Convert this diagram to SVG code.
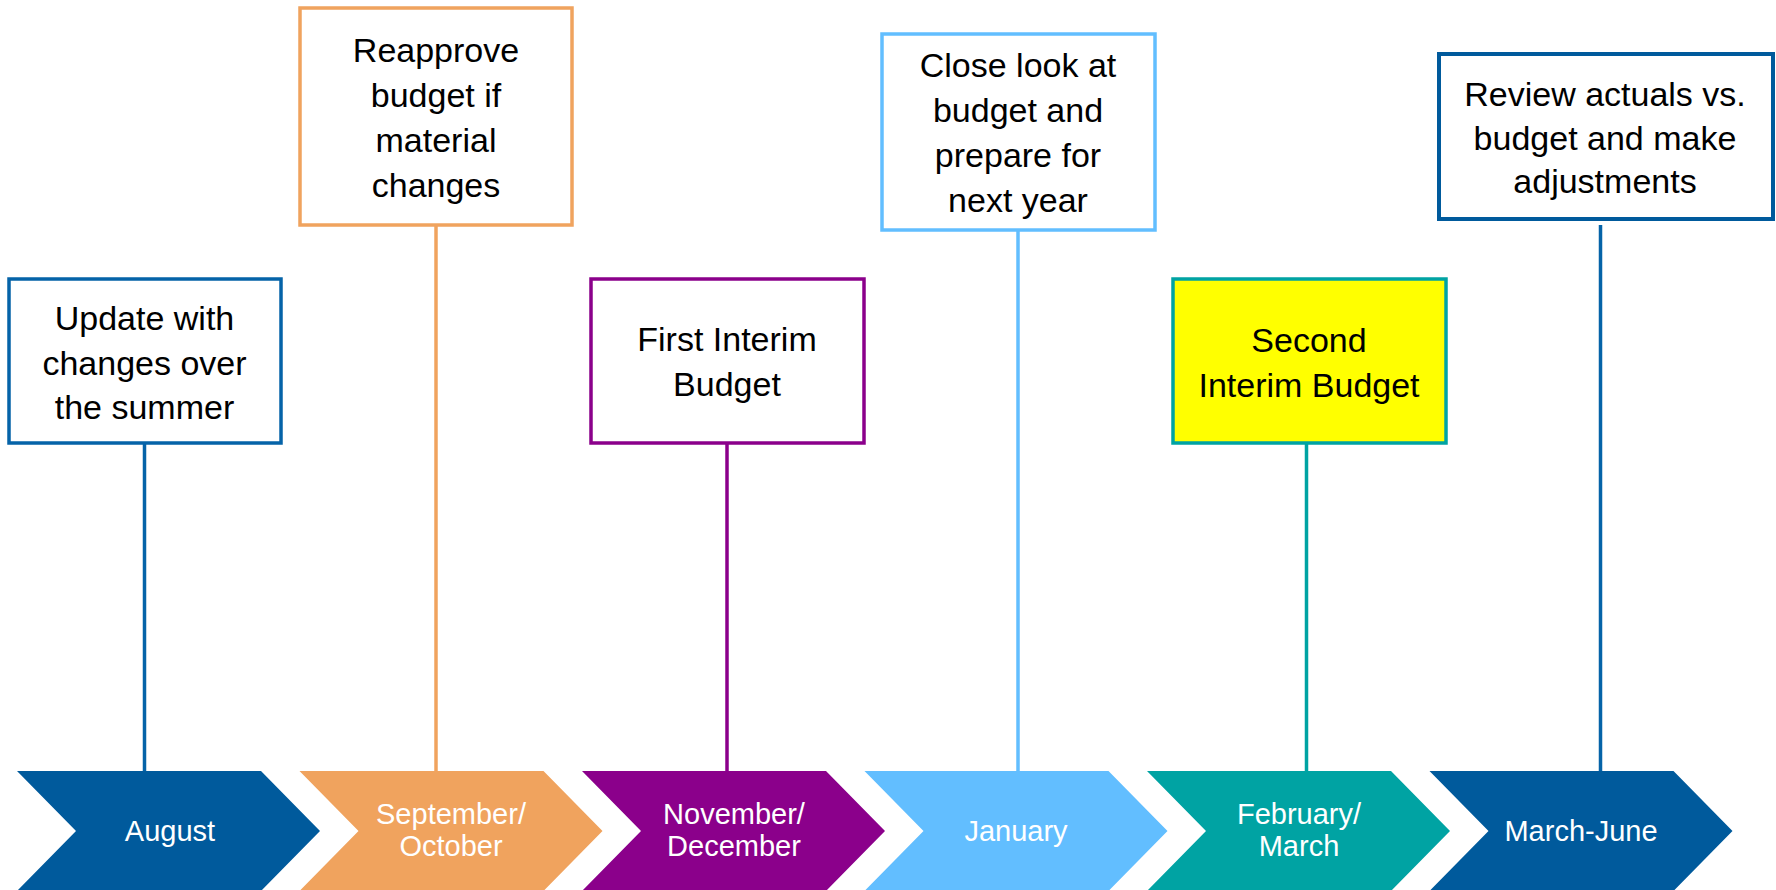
<svg xmlns="http://www.w3.org/2000/svg" width="1776" height="890" viewBox="0 0 1776 890">
<style>
.box{fill:#fff;stroke-width:3.5}
.bt{font-family:"Liberation Sans",Arial,sans-serif;font-size:34px;fill:#000;text-anchor:middle}
.ct{font-family:"Liberation Sans",Arial,sans-serif;font-size:29px;fill:#fff;text-anchor:middle}
.ln{stroke-width:3.5;fill:none}
</style>
<rect width="1776" height="890" fill="#fff"/>
<g id="connectors">
<line class="ln" x1="144.5" y1="443" x2="144.5" y2="773" stroke="#0563A8"/>
<line class="ln" x1="436" y1="225" x2="436" y2="773" stroke="#F0A35E"/>
<line class="ln" x1="727" y1="443" x2="727" y2="773" stroke="#8B008B"/>
<line class="ln" x1="1018" y1="230" x2="1018" y2="776" stroke="#62BEFF"/>
<line class="ln" x1="1306.5" y1="443" x2="1306.5" y2="773" stroke="#00A3A3"/>
<line class="ln" x1="1600.5" y1="225" x2="1600.5" y2="773" stroke="#0563A8"/>
</g>
<g id="chev-aug">
<polygon points="17,771 261,771 320,831 261,891 17,891 76,831" fill="#005A9C"/>
<text class="ct" x="170" y="841">August</text>
</g>
<g id="chev-sep">
<polygon points="299.5,771 543.5,771 602.5,831 543.5,891 299.5,891 358.5,831" fill="#F0A35E"/>
<text class="ct" x="451" y="824">September/</text>
<text class="ct" x="451" y="856">October</text>
</g>
<g id="chev-nov">
<polygon points="582,771 826,771 885,831 826,891 582,891 641,831" fill="#8B008B"/>
<text class="ct" x="734" y="824">November/</text>
<text class="ct" x="734" y="856">December</text>
</g>
<g id="chev-jan">
<polygon points="864.5,771 1108.5,771 1167.5,831 1108.5,891 864.5,891 923.5,831" fill="#62BEFF"/>
<text class="ct" x="1016" y="841">January</text>
</g>
<g id="chev-feb">
<polygon points="1147,771 1391,771 1450,831 1391,891 1147,891 1206,831" fill="#00A3A3"/>
<text class="ct" x="1299" y="824">February/</text>
<text class="ct" x="1299" y="856">March</text>
</g>
<g id="chev-mar">
<polygon points="1429.5,771 1673.5,771 1732.5,831 1673.5,891 1429.5,891 1488.5,831" fill="#005A9C"/>
<text class="ct" x="1581" y="841">March-June</text>
</g>
<g id="box-aug">
<rect class="box" x="9" y="279" width="272" height="164" stroke="#0563A8"/>
<text class="bt" x="144.5" y="330">Update with</text>
<text class="bt" x="144.5" y="375">changes over</text>
<text class="bt" x="144.5" y="419">the summer</text>
</g>
<g id="box-sep">
<rect class="box" x="300" y="8" width="272" height="217" stroke="#F0A35E"/>
<text class="bt" x="436" y="62">Reapprove</text>
<text class="bt" x="436" y="107">budget if</text>
<text class="bt" x="436" y="152">material</text>
<text class="bt" x="436" y="197">changes</text>
</g>
<g id="box-nov">
<rect class="box" x="591" y="279" width="273" height="164" stroke="#8B008B"/>
<text class="bt" x="727" y="351">First Interim</text>
<text class="bt" x="727" y="396">Budget</text>
</g>
<g id="box-jan">
<rect class="box" x="882" y="34" width="273" height="196" stroke="#62BEFF"/>
<text class="bt" x="1018" y="77">Close look at</text>
<text class="bt" x="1018" y="122">budget and</text>
<text class="bt" x="1018" y="167">prepare for</text>
<text class="bt" x="1018" y="212">next year</text>
</g>
<g id="box-feb">
<rect class="box" x="1173" y="279" width="273" height="164" stroke="#00A3A3" style="fill:#FFFF00"/>
<text class="bt" x="1309" y="352">Second</text>
<text class="bt" x="1309" y="397">Interim Budget</text>
</g>
<g id="box-mar">
<rect class="box" x="1439" y="54" width="334" height="165" stroke="#005A9C" style="stroke-width:4"/>
<text class="bt" x="1605" y="106">Review actuals vs.</text>
<text class="bt" x="1605" y="150">budget and make</text>
<text class="bt" x="1605" y="193">adjustments</text>
</g>
</svg>
